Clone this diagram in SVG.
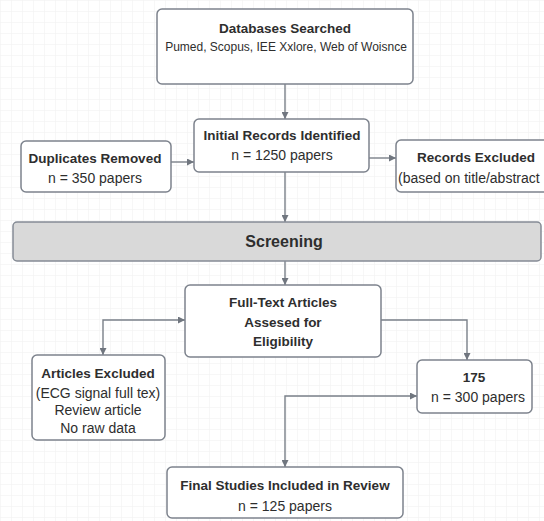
<svg xmlns="http://www.w3.org/2000/svg" width="544" height="521" viewBox="0 0 544 521">
  <defs>
    <pattern id="grid" width="11" height="11" patternUnits="userSpaceOnUse">
      <path d="M11 0H0V11" fill="none" stroke="#efefef" stroke-width="1"/>
    </pattern>
    <marker id="arr" viewBox="0 0 10 10" refX="10" refY="5" markerWidth="7" markerHeight="7" markerUnits="userSpaceOnUse" orient="auto-start-reverse">
      <path d="M0,0 L10,5 L0,10 z" fill="#70767f"/>
    </marker>
    <style>
      .box { fill: #ffffff; stroke: #7d838d; stroke-width: 1.5; }
      .bar { fill: #d9d9d9; stroke: #858b95; stroke-width: 1.5; }
      .t { font-family: "Liberation Sans", Arial, sans-serif; fill: #2e2e2e; text-anchor: middle; }
      .b { font-weight: bold; font-size: 13.5px; }
      .r { font-size: 14px; }
      .s { font-size: 12px; }
      .conn { fill: none; stroke: #7a8089; stroke-width: 1.4; }
    </style>
  </defs>
  <rect width="544" height="521" fill="#ffffff"/>
  <rect width="544" height="521" fill="url(#grid)"/>

  <g id="connectors">
    <path class="conn" d="M285,84 V119" marker-end="url(#arr)"/>
    <path class="conn" d="M171,162 H194" marker-end="url(#arr)"/>
    <path class="conn" d="M369,158 H396" marker-end="url(#arr)"/>
    <path class="conn" d="M285,172 V222" marker-end="url(#arr)"/>
    <path class="conn" d="M285,261 V285" marker-end="url(#arr)"/>
    <path class="conn" d="M103,355 V320 H185" marker-start="url(#arr)" marker-end="url(#arr)"/>
    <path class="conn" d="M381,320 H467 V360" marker-end="url(#arr)"/>
    <path class="conn" d="M285,467 V396 H417" marker-start="url(#arr)" marker-end="url(#arr)"/>
  </g>

  <g id="databases">
    <rect class="box" x="157" y="9" width="256" height="75" rx="5"/>
    <text class="t b" x="285" y="33">Databases Searched</text>
    <text class="t s" x="286" y="51">Pumed, Scopus, IEE Xxlore, Web of Woisnce</text>
  </g>

  <g id="initial">
    <rect class="box" x="194" y="119" width="175" height="53" rx="5"/>
    <text class="t b" x="282" y="140">Initial Records Identified</text>
    <text class="t r" x="282" y="160">n = 1250 papers</text>
  </g>

  <g id="duplicates">
    <rect class="box" x="21" y="141" width="150" height="51" rx="5"/>
    <text class="t b" x="95" y="163">Duplicates Removed</text>
    <text class="t r" x="95" y="183">n = 350 papers</text>
  </g>

  <g id="records-excluded">
    <rect class="box" x="396" y="140" width="160" height="52" rx="5"/>
    <text class="t b" x="476" y="162">Records Excluded</text>
    <text class="t r" x="398" y="183" style="text-anchor:start">(based on title/abstract</text>
  </g>

  <g id="screening">
    <rect class="bar" x="13" y="222" width="528" height="39" rx="4"/>
    <text class="t" x="284" y="247" style="font-weight:bold;font-size:16px">Screening</text>
  </g>

  <g id="fulltext">
    <rect class="box" x="185" y="285" width="196" height="72" rx="5"/>
    <text class="t b" x="283" y="307">Full-Text Articles</text>
    <text class="t b" x="283" y="327">Assesed for</text>
    <text class="t b" x="283" y="346">Eligibility</text>
  </g>

  <g id="articles-excluded">
    <rect class="box" x="32" y="355" width="133" height="85" rx="5"/>
    <text class="t b" x="98" y="378">Articles Excluded</text>
    <text class="t r" x="98" y="398">(ECG signal full tex)</text>
    <text class="t r" x="98" y="415">Review article</text>
    <text class="t r" x="98" y="433">No raw data</text>
  </g>

  <g id="n175">
    <rect class="box" x="417" y="360" width="115" height="53" rx="5"/>
    <text class="t b" x="474" y="382">175</text>
    <text class="t r" x="478" y="402">n = 300 papers</text>
  </g>

  <g id="final">
    <rect class="box" x="167" y="467" width="236" height="51" rx="5"/>
    <text class="t b" x="285" y="490">Final Studies Included in Review</text>
    <text class="t r" x="285" y="511">n = 125 papers</text>
  </g>
</svg>
